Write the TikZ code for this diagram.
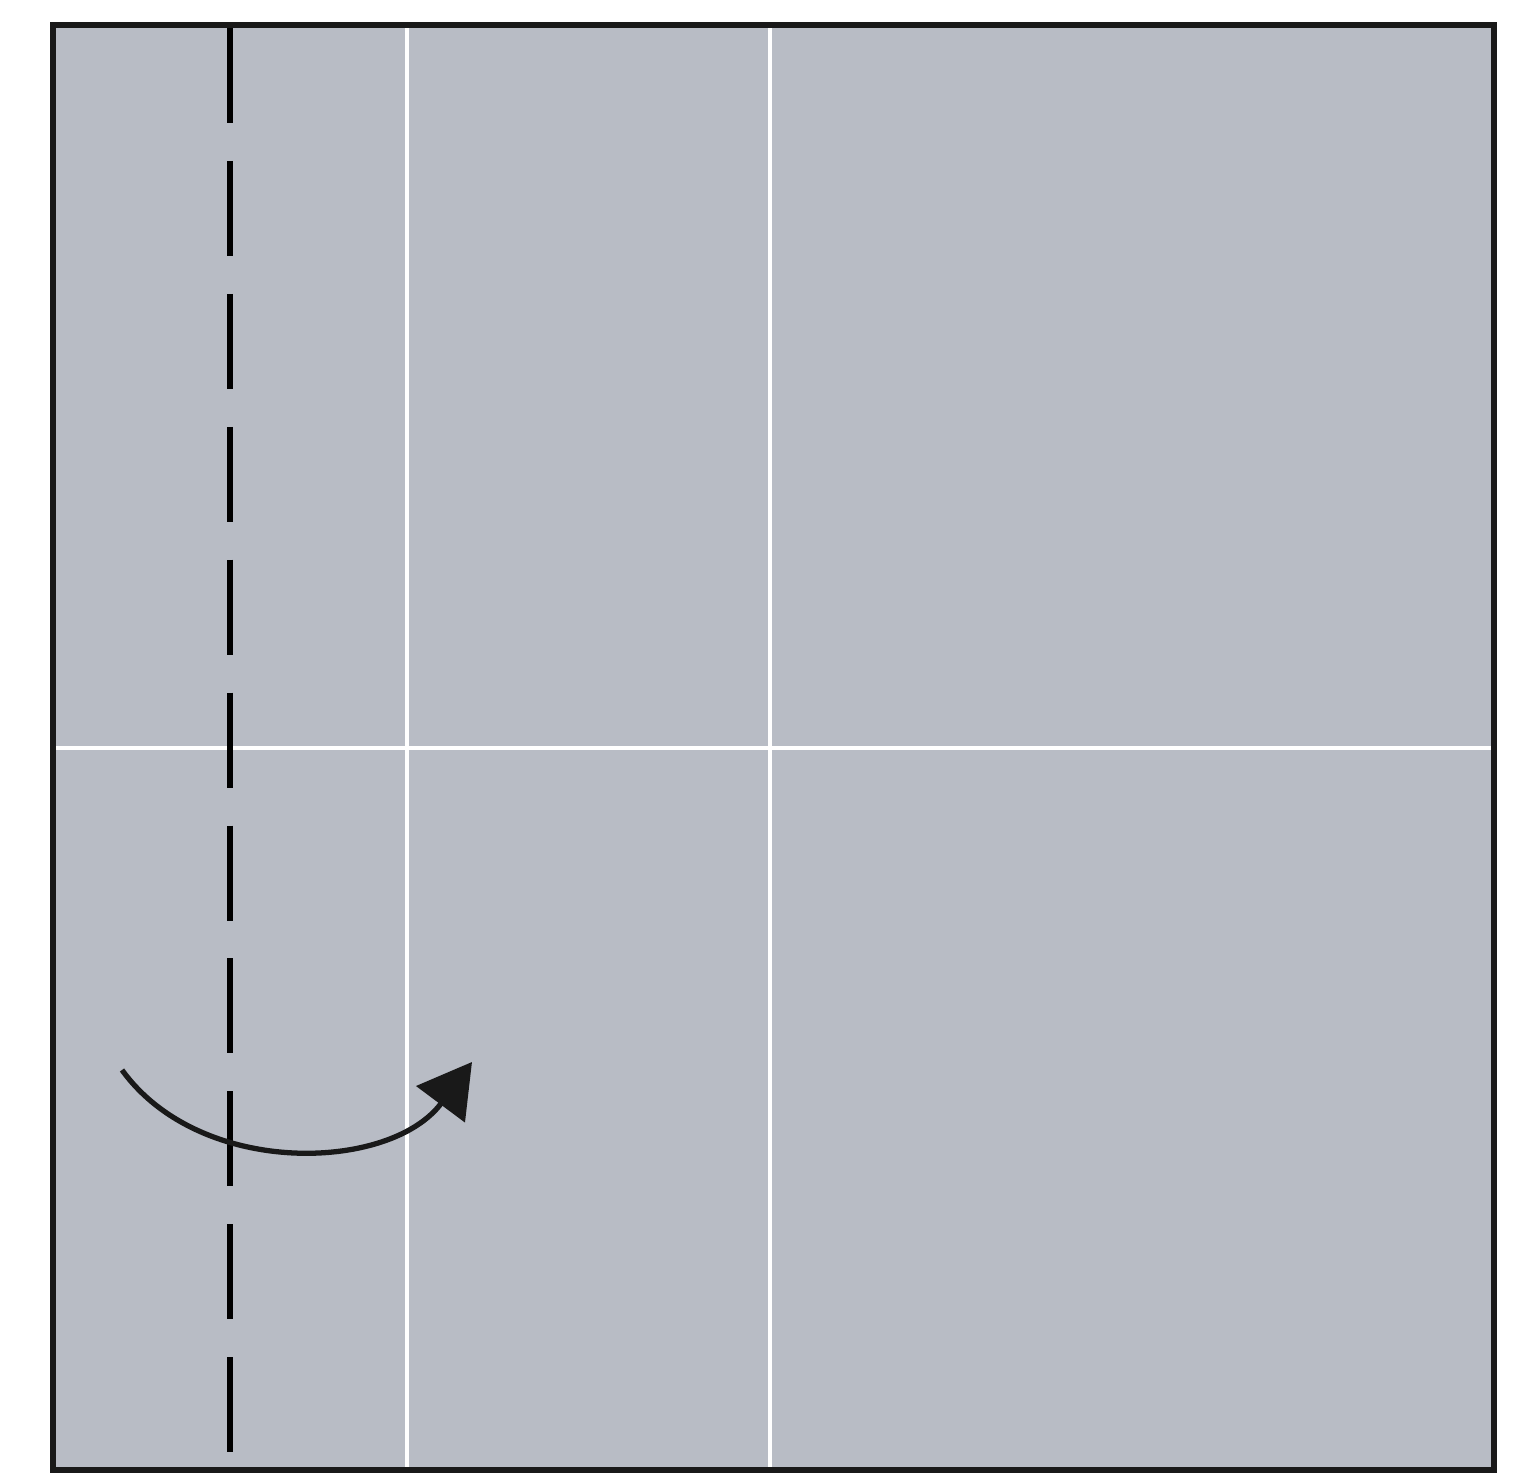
\documentclass[tikz,border=0pt]{standalone}
\usetikzlibrary{arrows.meta}
\definecolor{paper}{RGB}{184,188,197}
\tikzset{
  crease/.style={draw=white, line width=1.1pt},
  foldline/.style={draw=black, line width=1.6pt, dash pattern=on 27pt off 10.8pt},
  edge/.style={draw=black!90, line width=1.5pt},
  foldarrow/.style={draw=black!90, line width=1.5pt, -{Triangle[length=15pt,width=17pt]}}
}
\begin{document}
\begin{tikzpicture}[x=0.01cm,y=-0.01cm]
\useasboundingbox (0,0) rectangle (1517,1477);
\fill[white] (0,0) rectangle (1517,1477);
\fill[paper] (53,25) rectangle (1494,1470);
% creases
\draw[crease] (407,25) -- (407,1470);
\draw[crease] (770,25) -- (770,1470);
\draw[crease] (53,748) -- (1494,748);
% valley fold line
\draw[foldline] (230,28) -- (230,1453);
% paper edge
\draw[edge] (53,25) rectangle (1494,1470);
% arrow
\coordinate (as) at (122,1070);
\coordinate (ae) at (472,1062);
\draw[foldarrow] (as) .. controls (200,1178) and (390,1172) .. (ae);
\end{tikzpicture}
\end{document}
